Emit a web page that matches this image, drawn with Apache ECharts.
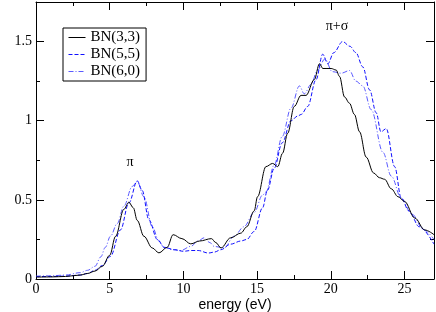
<!DOCTYPE html>
<html>
<head>
<meta charset="utf-8">
<script src="https://cdn.jsdelivr.net/npm/echarts@6/dist/echarts.min.js"></script>
<style>
html,body{margin:0;padding:0;background:#fff;}
#c{width:436px;height:312px;}
</style>
</head>
<body>
<div id="c"></div>
<script>
// BN(3,3)
const bn33X = [0,1,2,3,3.5,4,4.5,5,5.4,5.96,6.3,6.6,6.87,7.32,7.89,8.34,8.9,9.3,9.9,10.5,11.1,11.9,12.2,12.55,13.2,13.9,14.3,14.8,15.03,15.6,16.05,16.4,16.73,17.07,17.52,17.98,18.32,18.88,19.23,19.46,20.02,20.36,20.59,20.93,21.27,21.6,21.95,22.4,22.9,23.3,23.65,24.1,24.56,25.0,25.7,26.37,27];
const bn33Y = [0.012,0.013,0.016,0.025,0.035,0.05,0.08,0.15,0.27,0.44,0.485,0.45,0.37,0.27,0.196,0.165,0.2,0.28,0.255,0.222,0.24,0.255,0.23,0.196,0.26,0.29,0.33,0.43,0.52,0.71,0.73,0.71,0.795,0.92,1.09,1.16,1.16,1.26,1.36,1.33,1.33,1.32,1.28,1.15,1.11,1.04,0.93,0.77,0.67,0.64,0.63,0.57,0.52,0.49,0.385,0.31,0.28];
// BN(5,5)
const bn55X = [0,1,2,3,3.5,4,4.5,5.05,5.73,6.3,6.87,7.2,7.66,8.23,8.7,9.4,10,10.5,11,11.7,12.1,12.54,13.2,13.9,14.3,14.8,15.37,15.7,16.16,16.7,17.3,17.76,18.0,18.43,19.0,19.45,19.8,20.2,20.8,21.3,21.7,22.17,22.63,23.08,23.4,23.76,24.33,24.78,25.3,26,27];
const bn55Y = [0.015,0.016,0.018,0.025,0.035,0.055,0.085,0.143,0.31,0.48,0.62,0.56,0.374,0.25,0.2,0.185,0.175,0.18,0.18,0.164,0.17,0.185,0.22,0.24,0.25,0.30,0.45,0.56,0.70,0.86,1.0,1.03,1.04,1.09,1.26,1.42,1.36,1.43,1.50,1.47,1.43,1.34,1.195,1.05,0.93,0.95,0.71,0.51,0.43,0.33,0.22];
// BN(6,0)
const bn60X = [0,1,2,3,3.5,4,4.4,4.7,5.05,5.51,5.96,6.53,6.87,7.32,7.89,8.34,8.68,9.3,9.82,10.5,11.0,11.4,11.8,12.08,12.76,13.44,14.1,14.8,15.37,15.6,16.16,16.7,17.3,17.87,18.2,18.66,19.1,19.6,20.1,20.7,21.27,21.7,22.17,22.74,23.54,24.1,24.78,25.5,26.3,27];
const bn60Y = [0.018,0.02,0.025,0.04,0.055,0.08,0.14,0.2,0.27,0.35,0.46,0.585,0.616,0.52,0.33,0.24,0.2,0.185,0.18,0.206,0.24,0.26,0.23,0.206,0.196,0.27,0.33,0.42,0.53,0.55,0.72,0.9,1.08,1.22,1.17,1.23,1.32,1.39,1.31,1.30,1.317,1.25,1.22,1.07,0.80,0.65,0.51,0.41,0.31,0.25];
const seriesNames = ['BN(3,3)','BN(5,5)','BN(6,0)'];
const xTicks = [0,5,10,15,20,25];
const yTicks = [0,0.5,1,1.5];
const annotations = [{text:'π', x:6.38, y:0.735},{text:'π+σ', x:20.42, y:1.595}];

function pairs(xs, ys){ return xs.map((x,i)=>[x, ys[i]]); }
const serif = 'Liberation Serif';
const sans = 'Liberation Sans';

const axisCommon = {
  min: 0,
  axisLine: {show:true, onZero:false, lineStyle:{color:'#000', width:1}},
  axisTick: {show:true, inside:true, length:8, lineStyle:{color:'#000', width:1}},
  minorTick: {show:true, splitNumber:2, length:4, lineStyle:{color:'#000', width:1}},
  splitLine: {show:false},
  minorSplitLine: {show:false}
};

const option = {
  animation: false,
  backgroundColor: '#fff',
  grid: {left:36, right:2, top:2, bottom:33, containLabel:false, outerBoundsMode:'none'},
  legend: {
    orient: 'vertical', left: 63, top: 28,
    padding: [2, 6, 2, 5],
    itemGap: 2, itemWidth: 17, itemHeight: 12,
    borderColor: '#000', borderWidth: 1, borderRadius: 0,
    itemStyle: {opacity: 0},
    lineStyle: {width: 1},
    textStyle: {fontFamily: serif, fontSize: 15, color:'#000'},
    data: seriesNames
  },
  xAxis: [
    Object.assign({}, axisCommon, {
      type:'value', max:27, interval:5, position:'bottom',
      name:'energy (eV)', nameLocation:'middle', nameGap:19, nameMoveOverlap:false,
      nameTextStyle:{fontFamily:sans, fontSize:14, color:'#000'},
      axisLabel:{show:true, fontFamily:serif, fontSize:14, color:'#000', margin:3,
        customValues: xTicks, formatter: v => String(v)},
    }),
    Object.assign({}, axisCommon, {
      type:'value', max:27, interval:5, position:'top',
      axisLabel:{show:false}
    })
  ],
  yAxis: [
    Object.assign({}, axisCommon, {
      type:'value', max:1.75, interval:0.5, position:'left',
      name:'loss function', nameLocation:'middle', nameGap:23,
      nameTextStyle:{fontFamily:sans, fontSize:14, color:'#000'},
      axisLabel:{show:true, fontFamily:serif, fontSize:14, color:'#000', margin:4,
        customValues: yTicks, formatter: v => String(v)},
    }),
    Object.assign({}, axisCommon, {
      type:'value', max:1.75, interval:0.5, position:'right',
      axisLabel:{show:false}
    })
  ],
  series: [
    {
      name: seriesNames[0], type:'line', data: pairs(bn33X, bn33Y),
      symbol:'none', smooth:0.35, smoothMonotone:'x',
      lineStyle:{color:'#000', width:1}, itemStyle:{color:'#000'}, z:3,
      markPoint: {
        symbol:'circle', symbolSize:0, silent:true,
        label:{show:true, position:'inside', fontFamily:serif, fontSize:14, color:'#000',
          formatter: p => p.name},
        data: annotations.map(a => ({name:a.text, coord:[a.x, a.y], value:0}))
      }
    },
    {
      name: seriesNames[1], type:'line', data: pairs(bn55X, bn55Y),
      symbol:'none', smooth:0.35, smoothMonotone:'x',
      lineStyle:{color:'#1010ff', width:1, type:[4,2]}, itemStyle:{color:'#1010ff'}, z:2
    },
    {
      name: seriesNames[2], type:'line', data: pairs(bn60X, bn60Y),
      symbol:'none', smooth:0.35, smoothMonotone:'x',
      lineStyle:{color:'#5a5aff', width:1, type:[5,2,1,2]}, itemStyle:{color:'#5a5aff'}, z:1
    }
  ]
};
const chart = echarts.init(document.getElementById('c'), null, {renderer:'canvas'});
chart.setOption(option);
</script>
</body>
</html>
